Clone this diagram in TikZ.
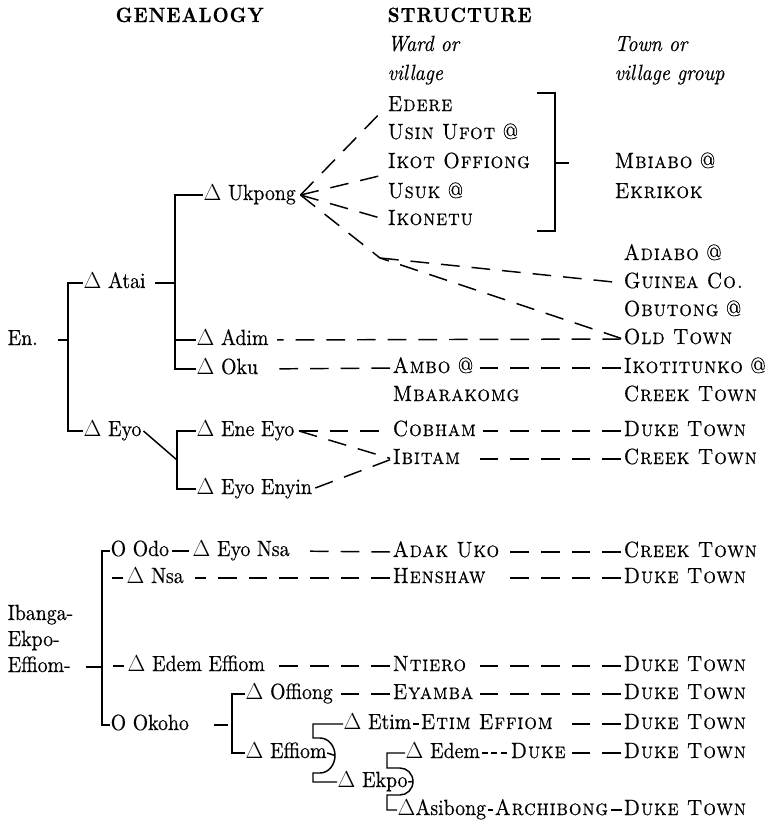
\documentclass[tikz,border=0pt]{standalone}
\usepackage{fontspec}
\setmainfont{lmroman10-regular.otf}[FakeStretch=0.9, FakeBold=0.4, BoldFont=lmroman10-bold.otf, ItalicFont=lmroman10-italic.otf, SmallCapsFont=lmromancaps10-regular.otf, SmallCapsFeatures={LetterSpace=4}]
\begin{document}
\begin{tikzpicture}[x=0.75pt,y=-0.75pt,line width=1.1pt,
  txt/.style={anchor=west,inner sep=0pt,text height=11.5pt,text depth=4pt,font=\fontsize{16.5}{19}\selectfont},
  itx/.style={txt,font=\fontsize{16.5}{19}\selectfont\itshape},
  hdr/.style={txt,font=\fontsize{15.5}{18}\selectfont\bfseries\addfontfeatures{LetterSpace=5}},
  dsh/.style={dash pattern=on 14pt off 9pt,shorten >=1.5pt},
  rdsh/.style={dash pattern=on 14pt off 9pt,shorten <=1.5pt},
  sdsh/.style={dash pattern=on 4.5pt off 2.5pt,shorten >=1pt,shorten <=1pt}]
\useasboundingbox (0,0) rectangle (767,822);
% headers
\node[hdr] (gen) at (115,17) {GENEALOGY};
\node[hdr] (str) at (387,17) {STRUCTURE};
\node[itx] (w1) at (387,46) {Ward or};
\node[itx] (w2) at (387,75) {village};
\node[itx] (t1) at (614,46) {Town or};
\node[itx] (t2) at (614,75) {village group};
% ward column
\node[txt] (edere) at (387,106) {\textsc{Edere}};
\node[txt] (usin) at (387,134) {\textsc{Usin Ufot} @};
\node[txt] (ikot) at (387,163) {\textsc{Ikot Offiong}};
\node[txt] (usuk) at (387,193) {\textsc{Usuk} @};
\node[txt] (ikonetu) at (387,220) {\textsc{Ikonetu}};
\node[txt] (mbiabo) at (614,163) {\textsc{Mbiabo} @};
\node[txt] (ekrikok) at (614,193) {\textsc{Ekrikok}};
\node[txt] (adiabo) at (623,255) {\textsc{Adiabo} @};
\node[txt] (guinea) at (623,283) {\textsc{Guinea Co.}};
\node[txt] (obutong) at (623,311) {\textsc{Obutong} @};
\node[txt] (oldtown) at (623,339) {\textsc{Old Town}};
\node[txt] (ikotit) at (623,368) {\textsc{Ikotitunko} @};
\node[txt] (creek1) at (623,396) {\textsc{Creek Town}};
\node[txt] (duke1) at (623,431) {\textsc{Duke Town}};
\node[txt] (creek2) at (623,459) {\textsc{Creek Town}};
\node[txt] (ambo) at (392,368) {\textsc{Ambo} @};
\node[txt] (mbarak) at (392,396) {\textsc{Mbarakomg}};
\node[txt] (cobham) at (392,431) {\textsc{Cobham}};
\node[txt] (ibitam) at (392,459) {\textsc{Ibitam}};
% genealogy top
\node[txt] (en) at (7,340) {En.};
\node[txt] (atai) at (83,283) {$\Delta$ Atai};
\node[txt] (eyo) at (83,431) {$\Delta$ Eyo};
\node[txt] (ukpong) at (203,195) {$\Delta$ Ukpong};
\node[txt] (adim) at (196,340) {$\Delta$ Adim};
\node[txt] (oku) at (196,369) {$\Delta$ Oku};
\node[txt] (eneeyo) at (196,431) {$\Delta$ Ene Eyo};
\node[txt] (eyoenyin) at (196,489) {$\Delta$ Eyo Enyin};
% bottom
\node[txt] (odo) at (110,551) {O Odo};
\node[txt] (eyonsa) at (192,551) {$\Delta$ Eyo Nsa};
\node[txt] (adak) at (392,552) {\textsc{Adak Uko}};
\node[txt] (creek3) at (623,552) {\textsc{Creek Town}};
\node[txt] (nsa) at (126,578) {$\Delta$ Nsa};
\node[txt] (henshaw) at (392,578) {\textsc{Henshaw}};
\node[txt] (duke2) at (623,578) {\textsc{Duke Town}};
\node[txt] (ib1) at (7,615) {Ibanga-};
\node[txt] (ib2) at (7,641) {Ekpo-};
\node[txt] (ib3) at (7,667) {Effiom-};
\node[txt] (edemeff) at (127,666) {$\Delta$ Edem Effiom};
\node[txt] (ntiero) at (392,666) {\textsc{Ntiero}};
\node[txt] (duke3) at (623,666) {\textsc{Duke Town}};
\node[txt] (okoho) at (110,725) {O Okoho};
\node[txt] (offiong) at (245,694) {$\Delta$ Offiong};
\node[txt] (eyamba) at (392,694) {\textsc{Eyamba}};
\node[txt] (duke4) at (623,694) {\textsc{Duke Town}};
\node[txt] (effiom) at (245,753) {$\Delta$ Effiom};
\node[txt] (etim) at (343,724) {$\Delta$ Etim};
\node[txt] (etimeff) at (420,724) {\textsc{Etim Effiom}};
\node[txt] (duke5) at (623,724) {\textsc{Duke Town}};
\node[txt] (ekpo) at (337,782) {$\Delta$ Ekpo};
\node[txt] (edem) at (405,753) {$\Delta$ Edem};
\node[txt] (dukeE) at (510,753) {\textsc{Duke}};
\node[txt] (duke6) at (623,753) {\textsc{Duke Town}};
\node[txt] (asibong) at (397,810) {$\Delta$Asibong};
\node[txt] (archib) at (494,810) {\textsc{Archibong}};
\node[txt] (duke7) at (623,810) {\textsc{Duke Town}};
% genealogy connectors (top)
\draw (atai.west) -- ++(-15,0) coordinate (ja) |- (eyo.west);
\draw (en.east -| ja) -- ++(-10,0);
\draw (ukpong.west) -- ++(-28,0) coordinate (jc) |- (oku.west);
\draw (adim.west) -- (adim.west -| jc);
\draw (atai.east -| jc) -- ++(-20,0);
\draw (eneeyo.west) -- ++(-19,0) coordinate (jd) |- (eyoenyin.west);
\coordinate (je) at (177,460);
\draw ([xshift=1pt]eyo.east) -- (je);
% fan from Ukpong
\coordinate (v1) at ([xshift=3pt]ukpong.east);
\coordinate (j3) at (380,258);
\draw[dsh] (v1) -- (edere.west);
\draw[dsh] (v1) -- (ikot.south west);
\draw[dsh] (v1) -- (ikonetu.west);
\draw[dsh] (v1) -- (j3) -- (oldtown.west);
\draw[dsh] (j3) -- (guinea.west);
% bracket
\coordinate (bt) at (537,93);
\coordinate (bb) at (537,231);
\draw (bt) -- ++(18,0) coordinate (bt2) -- (bt2 |- bb) -- (bb);
\draw (bt2 |- mbiabo.west) -- ++(14,0);
% rows (drawn from right to left so that a dash meets the text on the right)
\draw[rdsh,shorten >=6pt] (oldtown.west) -- (adim.east);
\draw[rdsh,shorten >=10pt] (ambo.west) -- (oku.east);
\draw[rdsh,shorten >=4pt] (ikotit.west) -- (ambo.east);
\coordinate (v2) at ([xshift=3pt]eneeyo.east);
\draw[dsh] (v2) -- (cobham.west);
\draw[dsh] (v2) -- (ibitam.west);
\draw[rdsh,shorten >=2pt] (ibitam.west) -- (eyoenyin.east);
\draw[rdsh,shorten >=4pt] (duke1.west) -- (cobham.east);
\draw[rdsh,shorten >=8pt] (creek2.west) -- (ibitam.east);
% bottom genealogy
\draw (odo.west) -- ++(-8,0) coordinate (jf) |- (okoho.west);
\draw (ib3.east -| jf) -- ++(-16,0);
\draw ([xshift=-2pt]nsa.west) -- ++(-11,0);
\draw ([xshift=-2pt]edemeff.west) -- ++(-11,0);
\draw[shorten <=2pt,shorten >=2pt] (odo.east) -- (eyonsa.west);
\draw[rdsh,shorten >=6pt] (adak.west) -- (eyonsa.east);
\draw[rdsh,shorten >=4pt] (creek3.west) -- (adak.east);
\draw[rdsh,shorten >=8pt] (henshaw.west) -- (nsa.east);
\draw[rdsh,shorten >=13pt] (duke2.west) -- (henshaw.east);
\draw[rdsh,shorten >=5pt] (ntiero.west) -- (edemeff.east);
\draw[rdsh,shorten >=4pt] (duke3.west) -- (ntiero.east);
\draw (offiong.west) -- ++(-13,0) coordinate (jg) |- (effiom.west);
\draw ([xshift=-3pt]okoho.east -| jg) -- ++(-14,0);
\draw[rdsh,shorten >=5pt] (eyamba.west) -- (offiong.east);
\draw[rdsh,shorten >=4pt] (duke4.west) -- (eyamba.east);
% S brackets
\draw (etim.west) -- ++(-30,0) coordinate (s1) -- ++(0,14) -- ++(7,0)
  arc[start angle=-90,end angle=90,x radius=15,y radius=17.5] -- ++(-7,0) |- (ekpo.west);
\coordinate (b1) at ([shift={(22,31.5)}]s1);
\draw (effiom.east) -- (b1);
\draw (edem.west) -- ++(-18,0) coordinate (s2) -- ++(0,15) -- ++(13,0)
  arc[start angle=-90,end angle=90,x radius=13,y radius=13.5] -- ++(-13,0) |- (asibong.west);
\coordinate (b2) at ([shift={(26,28.5)}]s2);
\draw (ekpo.east) -- (b2);
\draw[sdsh] (etim.east) -- (etimeff.west);
\draw[rdsh,shorten >=8pt] (duke5.west) -- (etimeff.east);
\draw[sdsh] (edem.east) -- (dukeE.west);
\draw[rdsh,shorten >=3pt] (duke6.west) -- (dukeE.east);
\draw[shorten <=1pt,shorten >=1pt] (asibong.east) -- (archib.west);
\draw[shorten <=1pt,shorten >=1pt] (archib.east) -- (duke7.west);
\end{tikzpicture}
\end{document}
